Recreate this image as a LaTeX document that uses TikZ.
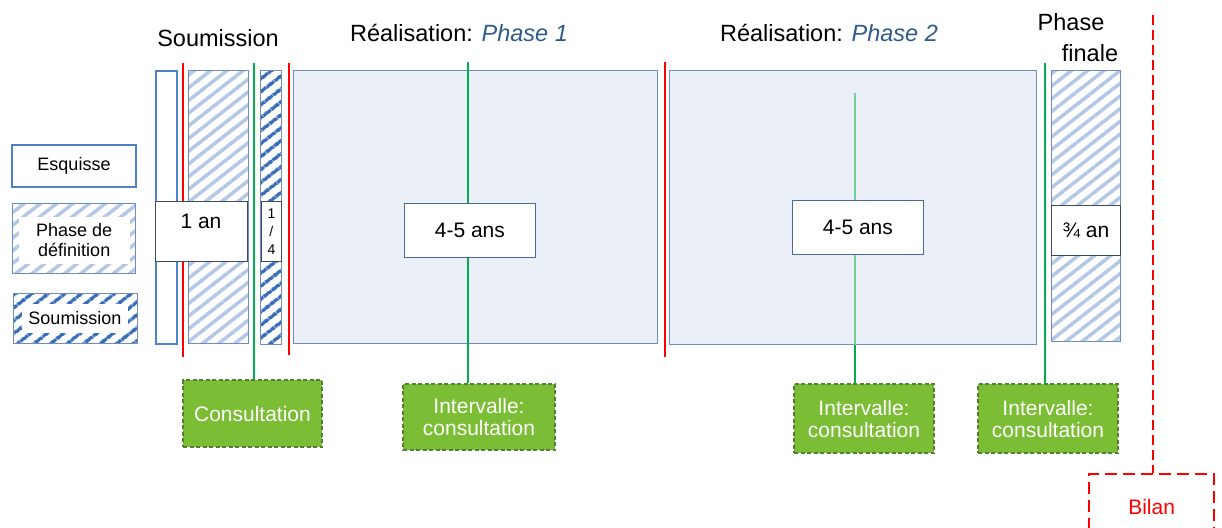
\documentclass[tikz,border=0pt]{standalone}
\usepackage{fontspec}
\setmainfont{Liberation Sans}
\usetikzlibrary{patterns.meta}
\definecolor{esqblue}{HTML}{4F81C9}
\definecolor{hatchlight}{HTML}{B4C8E6}
\definecolor{hatchdark}{HTML}{3A6DB8}
\definecolor{boxborder}{HTML}{6F8DBA}
\definecolor{boxfill}{HTML}{EBF0F8}
\definecolor{redline}{HTML}{FF0000}
\definecolor{greenline}{HTML}{00B050}
\definecolor{greenlight}{HTML}{74CF97}
\definecolor{gfill}{HTML}{7BBD34}
\definecolor{gborder}{HTML}{567F36}
\definecolor{phaseblue}{HTML}{2E5B8B}
\definecolor{labelborder}{HTML}{4A6894}
\definecolor{darklabel}{HTML}{3F4A5C}
\tikzset{
  bar/.style={draw=boxborder, line width=0.8pt, inner sep=0pt, anchor=north west},
  lighthatch/.style={bar, preaction={fill=white}, pattern={Lines[angle=38,distance=10pt,line width=3.5pt]}, pattern color=hatchlight},
  darkhatch/.style={bar, preaction={fill=white}, pattern={Lines[angle=38,distance=10.5pt,line width=4pt]}, pattern color=hatchdark},
  esq/.style={draw=esqblue, line width=2pt, fill=white, inner sep=0pt, anchor=north west},
  phasebox/.style={bar, fill=boxfill},
  durbox/.style={draw=labelborder, line width=0.8pt, fill=white, inner sep=0pt, anchor=north west, font=\fontsize{21}{24}\selectfont},
  redsep/.style={draw=redline, line width=2.8pt},
  greensep/.style={draw=greenline, line width=2.8pt},
  consult/.style={draw=gborder, fill=gfill, dash pattern=on 4pt off 2.5pt, line width=2pt, text=white, font=\fontsize{21}{22}\selectfont, align=center, inner sep=0pt, anchor=north west},
  title/.style={font=\fontsize{23.5}{26}\selectfont},
  legtext/.style={font=\fontsize{18}{20}\selectfont, align=center},
}
\begin{document}
\begin{tikzpicture}[x=1pt,y=-1pt]
\useasboundingbox (0,0) rectangle (1222,527);
\clip (0,0) rectangle (1222,527);
\fill[white] (0,0) rectangle (1222,527);

% legend
\node[esq, legtext, minimum width=124pt, minimum height=42pt] (legEsq) at (11,144) {Esquisse};
\node[lighthatch, minimum width=123pt, minimum height=70pt] (legDef) at (11,202) {};
\node[fill=white, legtext, inner sep=0pt, minimum width=111pt, minimum height=47pt] (legDefText) at ([yshift=-1.5pt]legDef.center) {Phase de\\définition};
\node[darkhatch, minimum width=124pt, minimum height=50pt] (legSou) at (11,291) {};
\node[fill=white, legtext, inner sep=0pt, minimum width=106pt, minimum height=29pt] (legSouText) at (legSou.center) {Soumission};

% bars
\node[esq, minimum width=21pt, minimum height=273pt] (esqBar) at (155,70) {};
\node[lighthatch, minimum width=60pt, minimum height=273pt] (defBar) at (188,70) {};
\node[darkhatch, minimum width=21pt, minimum height=274pt] (souBar) at (260,70) {};
\node[phasebox, minimum width=364pt, minimum height=273pt] (ph1) at (293,70) {};
\node[phasebox, minimum width=367pt, minimum height=274pt] (ph2) at (669,70) {};
\node[lighthatch, minimum width=69pt, minimum height=271pt] (finBar) at (1051,70) {};

% green boxes
\node[consult, minimum width=139pt, minimum height=67pt] (cons) at (182,379) {Consultation};
\node[consult, minimum width=152pt, minimum height=66pt] (int1) at (402,383) {Intervalle:\\consultation};
\node[consult, minimum width=140pt, minimum height=69pt] (int2) at (793,383) {Intervalle:\\consultation};
\node[consult, minimum width=140pt, minimum height=69pt] (int3) at (977,383) {Intervalle:\\consultation};

% bilan
\node[draw=redline, line width=2.2pt, dash pattern=on 12pt off 6pt, text=redline, font=\fontsize{21}{24}\selectfont, inner sep=0pt, anchor=north west, minimum width=125pt, minimum height=66pt] (bilan) at (1088,473) {Bilan};

% separator lines
\coordinate (r1t) at (183,63); \coordinate (r1b) at (183,357);
\coordinate (r2t) at (289,63); \coordinate (r2b) at (289,355);
\coordinate (r3t) at (665,62); \coordinate (r3b) at (665,357);
\coordinate (g1t) at (254,63);
\coordinate (g2t) at (468,62);
\coordinate (g3t) at (855,93);
\coordinate (g4t) at (1045,63);
\coordinate (rdt) at (1153,15);
\draw[redsep] (r1t) -- (r1b);
\draw[redsep] (r2t) -- (r2b);
\draw[redsep] (r3t) -- (r3b);
\draw[greensep] (g1t) -- (g1t |- cons.north);
\draw[greensep] (g2t) -- (g2t |- int1.north);
\draw[greensep, draw=greenlight] (g3t) -- (g3t |- ph2.south);
\draw[greensep] (g3t |- ph2.south) -- (g3t |- int2.north);
\draw[greensep] (g4t) -- (g4t |- int3.north);
\draw[draw=redline, line width=2.2pt, dash pattern=on 10pt off 5pt] (rdt) -- (rdt |- bilan.north);

% duration boxes
\node[durbox, draw=darklabel, minimum width=92pt, minimum height=60pt] (an1) at (155,201) {};
\node[font=\fontsize{21}{24}\selectfont] (an1text) at (201,221) {1 an};
\node[durbox, draw=darklabel, font=\fontsize{14}{18}\selectfont, align=center, minimum width=20pt, minimum height=60pt] (quart) at (261,201) {1\\/\\4};
\node[durbox, minimum width=131pt, minimum height=54pt] (d1) at (404,203) {4-5 ans};
\node[durbox, minimum width=131pt, minimum height=54pt] (d2) at (792,200) {4-5 ans};
\node[durbox, draw=darklabel, minimum width=69pt, minimum height=50pt] (d3) at (1051,205) {¾ an};

% titles
\node[title] (tSou) at (218,38) {Soumission};
\node[title] (tPh1) at (459,33) {Réalisation: \textcolor{phaseblue}{\itshape Phase 1}};
\node[title] (tPh2) at (829,33) {Réalisation: \textcolor{phaseblue}{\itshape Phase 2}};
\node[title] (tFin1) at (1071,22) {Phase};
\node[title] (tFin2) at (1090,53) {finale};
\end{tikzpicture}
\end{document}
